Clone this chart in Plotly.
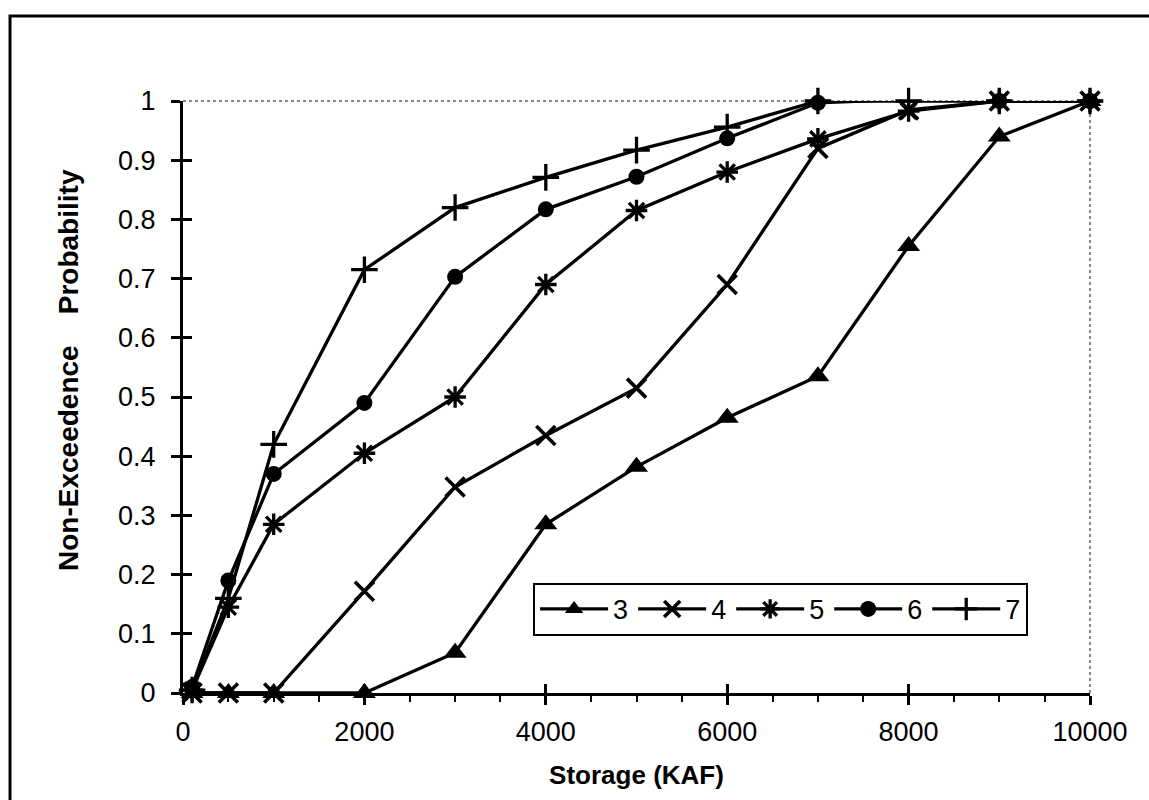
import plotly.graph_objects as go

storage = [100, 500, 1000, 2000, 3000, 4000, 5000, 6000, 7000, 8000, 9000, 10000]
series_names = ["3", "4", "5", "6", "7"]
s3 = [0, 0, 0, 0, 0.068, 0.285, 0.382, 0.465, 0.535, 0.755, 0.94, 1.0]
s4 = [0, 0, 0, 0.172, 0.348, 0.435, 0.515, 0.69, 0.92, 0.985, 1.0, 1.0]
s5 = [0.005, 0.145, 0.285, 0.405, 0.5, 0.69, 0.815, 0.88, 0.936, 0.983, 1.0, 1.0]
s6 = [0.01, 0.19, 0.37, 0.49, 0.703, 0.817, 0.872, 0.937, 0.997, 1.003, 1.0, 1.0]
s7 = [0.005, 0.16, 0.42, 0.715, 0.82, 0.871, 0.917, 0.956, 1.0, 1.0, 1.0, 1.0]
x_ticks = [0, 2000, 4000, 6000, 8000, 10000]
y_ticks = [0, 0.1, 0.2, 0.3, 0.4, 0.5, 0.6, 0.7, 0.8, 0.9, 1]
y_tick_text = ["0", "0.1", "0.2", "0.3", "0.4", "0.5", "0.6", "0.7", "0.8", "0.9", "1"]

values = [s3, s4, s5, s6, s7]
symbols = [
    dict(symbol="triangle-up", size=20, color="black", line=dict(width=0)),
    dict(symbol="x-thin-open", size=19, color="black", line=dict(width=3.6, color="black")),
    dict(symbol="asterisk-open", size=18, color="black", line=dict(width=3.3, color="black")),
    dict(symbol="circle", size=16, color="black", line=dict(width=0)),
    dict(symbol="cross-thin-open", size=19, color="black", line=dict(width=3.3, color="black")),
]

FONT = "Liberation Sans, Arial, sans-serif"
fig = go.Figure()
for name, vals, mk in zip(series_names, values, symbols):
    fig.add_trace(go.Scatter(
        x=storage, y=vals, name=name, mode="lines+markers",
        line=dict(color="black", width=3.3), marker=mk, cliponaxis=False,
    ))

# helper overlay trace for the inner half of crossing ticks
fig.add_trace(go.Scatter(x=[0], y=[0], xaxis="x2", yaxis="y2", mode="markers",
                         marker=dict(opacity=0), showlegend=False, hoverinfo="skip"))

fig.update_layout(
    width=1149, height=800,
    margin=dict(l=183, r=59, t=101, b=107),
    paper_bgcolor="white", plot_bgcolor="white",
    font=dict(family=FONT, color="black", size=26),
    showlegend=True,
    legend=dict(
        orientation="h", x=0.386, y=0.186, xanchor="left", yanchor="top",
        bordercolor="black", borderwidth=2, bgcolor="white",
        font=dict(size=27, family=FONT), itemwidth=68, tracegroupgap=0,
    ),
    xaxis=dict(
        range=[0, 10000], tickvals=x_ticks, ticktext=[str(v) for v in x_ticks],
        ticks="outside", ticklen=9, tickwidth=2.5, tickcolor="black",
        showline=True, linecolor="black", linewidth=3, showgrid=False, zeroline=False,
        minor=dict(dtick=500, ticks="outside", ticklen=6, tickwidth=2, tickcolor="black", showgrid=False),
        tickfont=dict(size=27, family=FONT), ticklabelstandoff=4,
        title=dict(text="Storage (KAF)", font=dict(size=26, family=FONT, weight="bold"), standoff=20),
    ),
    yaxis=dict(
        range=[0, 1], tickvals=y_ticks, ticktext=y_tick_text,
        ticks="outside", ticklen=9, tickwidth=2.5, tickcolor="black",
        showline=True, linecolor="black", linewidth=3, showgrid=False, zeroline=False,
        tickfont=dict(size=27, family=FONT), ticklabelstandoff=10,
    ),
    xaxis2=dict(overlaying="x", matches="x", range=[0, 10000], tickvals=x_ticks,
                ticks="inside", ticklen=9, tickwidth=2.5, tickcolor="black",
                showticklabels=False, showline=False, showgrid=False, zeroline=False),
    yaxis2=dict(overlaying="y", range=[0, 1], tickvals=y_ticks,
                ticks="inside", ticklen=9, tickwidth=2.5, tickcolor="black",
                showticklabels=False, showline=False, showgrid=False, zeroline=False),
    annotations=[
        dict(text="Non-Exceedence\u00a0\u00a0\u00a0\u00a0Probability", xref="paper", yref="paper",
             x=-0.1268, y=0.5456, xanchor="center", yanchor="middle", textangle=-90,
             showarrow=False, font=dict(size=28, family=FONT, weight="bold", color="black")),
    ],
    shapes=[
        dict(type="line", xref="paper", yref="paper", x0=0, x1=1, y0=1, y1=1,
             line=dict(color="#888888", width=2, dash="dot"), layer="below"),
        dict(type="line", xref="paper", yref="paper", x0=1, x1=1, y0=0, y1=1,
             line=dict(color="#888888", width=2, dash="dot"), layer="below"),
        dict(type="rect", xref="paper", yref="paper", x0=-0.1907, x1=1.2, y0=-0.5, y1=1.1436,
             line=dict(color="black", width=3), fillcolor="rgba(0,0,0,0)", layer="below"),
    ],
)

fig.write_html("out.html")
